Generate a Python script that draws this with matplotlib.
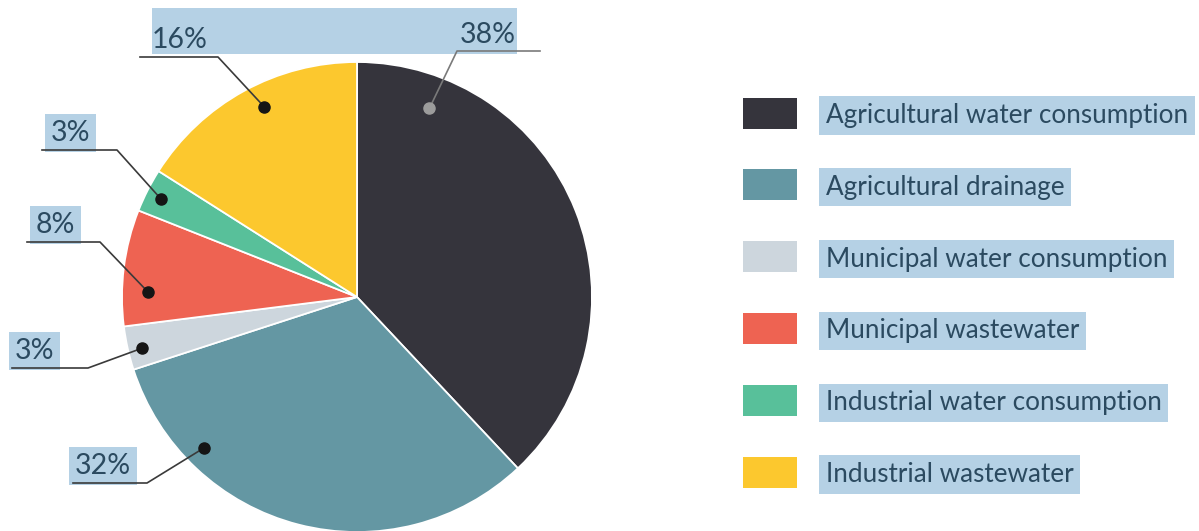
import numpy as np
import matplotlib.pyplot as plt
from matplotlib.patches import Rectangle

sources = ["Agricultural water consumption", "Agricultural drainage",
           "Municipal water consumption", "Municipal wastewater",
           "Industrial water consumption", "Industrial wastewater"]
shares = [38, 32, 3, 8, 3, 16]
colors = ["#35343c", "#6497a3", "#cdd6dd", "#ee6352", "#58c09a", "#fcc82e"]

HL = "#b5d1e5"
TXT = "#2b4a60"
plt.rcParams['font.family'] = ['Lato', 'DejaVu Sans']

fig = plt.figure(figsize=(11.99, 5.31), dpi=100)
ax = fig.add_axes([0, 0, 1, 1])

# pie in pixel coords (y inverted, so counterclock=True looks clockwise)
cx, cy, R = 357, 297, 235
ax.pie(shares, colors=colors, startangle=-90, counterclock=True,
       center=(cx, cy), radius=R, frame=True,
       wedgeprops=dict(edgecolor='white', linewidth=1.3))
ax.set_xlim(0, 1199)
ax.set_ylim(531, 0)
ax.axis('off')

# highlight band behind the two top labels
ax.add_patch(Rectangle((152, 8), 365, 46, facecolor=HL, edgecolor='none', zorder=0.5))

# text x, baseline y, line start x, elbow x, line y, dot angle, dot radius
label_layout = [
    (460, 43, 540, 457, 51, 69, 0.86),
    (75, 474, 73, 147, 483, 224.6, 0.915),
    (15, 359, 12, 88, 368, 193.4, 0.94),
    (36, 233, 27, 100, 242, 178.6, 0.89),
    (51, 141, 42, 117, 150, 153.5, 0.93),
    (152, 48, 140, 218, 57, 116, 0.90),
]

for i, (v, lay) in enumerate(zip(shares, label_layout)):
    tx, ty, x0, xe, ly, ang, rf = lay
    dx = cx + rf * R * np.cos(np.radians(ang))
    dy = cy - rf * R * np.sin(np.radians(ang))
    lc, dc = ('#7a7a7a', '#9c9c9c') if i == 0 else ('#3a3a3a', '#151515')
    ax.plot([x0, xe, dx], [ly, ly, dy], color=lc, lw=1.2, zorder=6)
    ax.plot(dx, dy, 'o', color=dc, ms=8, zorder=7)
    bbox = None
    if i not in (0, 5):
        bbox = dict(boxstyle='square,pad=0.2', facecolor=HL, edgecolor='none')
    ax.text(tx, ty, f"{v}%", fontsize=20.5, color=TXT, ha='left', va='baseline',
            bbox=bbox, zorder=5)

# legend drawn by hand
for k, (name, c) in enumerate(zip(sources, colors)):
    yc = 113 + k * 71.8
    ax.add_patch(Rectangle((743, yc - 15.5), 54, 31, facecolor=c, edgecolor='none'))
    ax.text(826, yc + 10, name, fontsize=18.8, color=TXT, ha='left', va='baseline',
            bbox=dict(boxstyle='square,pad=0.25', facecolor=HL, edgecolor='none'))

fig.savefig("out.png", dpi=100)
